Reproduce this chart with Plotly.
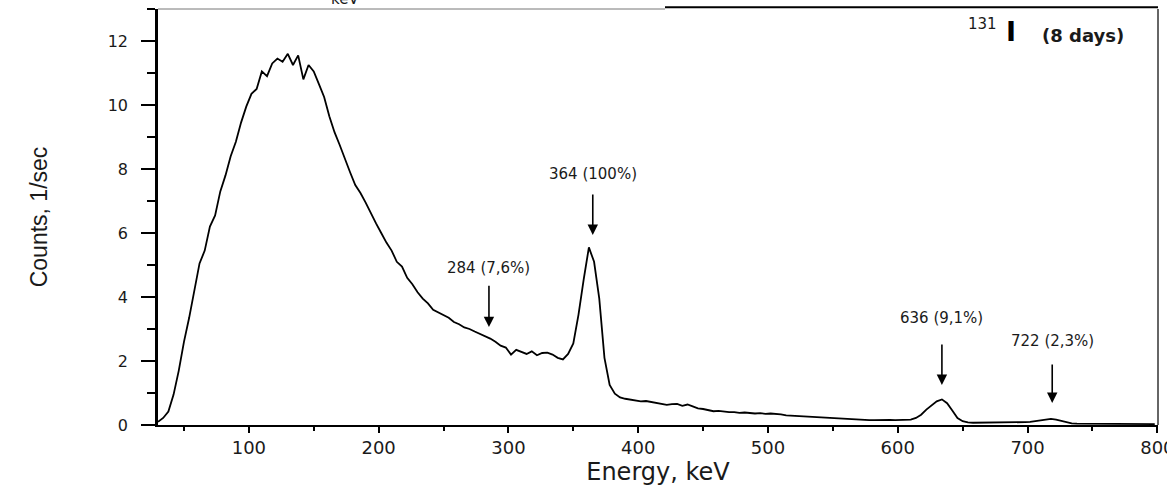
import plotly.graph_objects as go

# ---- data (I-131) ----
energy_kev = list(range(30, 802, 4))  # channel energies, 30 ... 798 keV
counts_per_sec = [
    0.10, 0.22, 0.42, 0.95, 1.70, 2.60, 3.35, 4.25,
    5.05, 5.45, 6.20, 6.55, 7.30, 7.80, 8.40, 8.85,
    9.45, 9.95, 10.35, 10.50, 11.05, 10.90, 11.30, 11.45,
    11.35, 11.60, 11.25, 11.55, 10.80, 11.25, 11.05, 10.65,
    10.25, 9.65, 9.15, 8.75, 8.30, 7.90, 7.50, 7.25,
    6.95, 6.60, 6.30, 6.00, 5.70, 5.45, 5.10, 4.95,
    4.60, 4.40, 4.15, 3.95, 3.80, 3.60, 3.52, 3.42,
    3.35, 3.22, 3.15, 3.05, 3.00, 2.92, 2.85, 2.78,
    2.70, 2.60, 2.48, 2.42, 2.20, 2.35, 2.28, 2.22,
    2.30, 2.18, 2.25, 2.26, 2.20, 2.10, 2.05, 2.22,
    2.55, 3.45, 4.55, 5.55, 5.10, 3.95, 2.10, 1.25,
    0.98, 0.86, 0.82, 0.80, 0.78, 0.74, 0.75, 0.72,
    0.70, 0.66, 0.63, 0.65, 0.66, 0.60, 0.64, 0.58,
    0.52, 0.50, 0.47, 0.43, 0.44, 0.41, 0.40, 0.40,
    0.38, 0.39, 0.37, 0.36, 0.37, 0.35, 0.36, 0.35,
    0.33, 0.30, 0.29, 0.27, 0.26, 0.26, 0.25, 0.24,
    0.23, 0.22, 0.22, 0.21, 0.20, 0.19, 0.18, 0.17,
    0.16, 0.15, 0.15, 0.16, 0.15, 0.16, 0.15, 0.15,
    0.16, 0.17, 0.22, 0.32, 0.48, 0.62, 0.74, 0.80,
    0.68, 0.45, 0.22, 0.12, 0.08, 0.07, 0.07, 0.07,
    0.07, 0.07, 0.07, 0.07, 0.08, 0.08, 0.08, 0.09,
    0.10, 0.12, 0.15, 0.17, 0.19, 0.17, 0.13, 0.08,
    0.05, 0.04, 0.04, 0.04, 0.04, 0.04, 0.03, 0.04,
    0.03, 0.04, 0.03, 0.03, 0.04, 0.03, 0.03, 0.03,
    0.03,
]

# peak markers: label, arrow energy, arrow tip (counts), arrow tail (counts), label height (counts)
peak_labels = ["284 (7,6%)", "364 (100%)", "636 (9,1%)", "722 (2,3%)"]
peak_energy = [285, 365, 634, 719]
arrow_tip = [3.06, 5.94, 1.25, 0.69]
arrow_tail = [4.40, 7.25, 2.56, 1.94]
label_level = [4.90, 7.84, 3.34, 2.62]

x_ticks = [100, 200, 300, 400, 500, 600, 700, 800]
y_ticks = [0, 2, 4, 6, 8, 10, 12]

FONT = "DejaVu Sans, Liberation Sans, Arial"
TXT = "#1a1a1a"

fig = go.Figure()
fig.add_trace(go.Scatter(
    x=energy_kev, y=counts_per_sec, mode="lines",
    line=dict(color="black", width=1.8), showlegend=False, hoverinfo="skip",
))

annotations = []
for lab, e, tip, tail, lv in zip(peak_labels, peak_energy, arrow_tip, arrow_tail, label_level):
    annotations.append(dict(
        x=e, y=tip, ax=e, ay=tail, xref="x", yref="y", axref="x", ayref="y",
        text="", showarrow=True, arrowhead=2, arrowsize=1.3, arrowwidth=1.6,
        arrowcolor="black", standoff=0,
    ))
    annotations.append(dict(
        x=e, y=lv, xref="x", yref="y", text=lab, showarrow=False,
        font=dict(family=FONT, size=15, color=TXT), xanchor="center", yanchor="middle",
    ))

# isotope label, top right
annotations.append(dict(x=0.824, y=0.963, xref="paper", yref="paper", text="131",
                        showarrow=False, xanchor="center", yanchor="middle",
                        font=dict(family=FONT, size=15, color=TXT)))
annotations.append(dict(x=0.853, y=0.945, xref="paper", yref="paper", text="<b>I</b>",
                        showarrow=False, xanchor="center", yanchor="middle",
                        font=dict(family=FONT, size=27, color="black")))
annotations.append(dict(x=0.925, y=0.937, xref="paper", yref="paper", text="<b>(8 days)</b>",
                        showarrow=False, xanchor="center", yanchor="middle",
                        font=dict(family=FONT, size=18, color=TXT)))
# cut-off text at the very top of the picture
annotations.append(dict(x=0.187, y=1.024, xref="paper", yref="paper", text="keV",
                        showarrow=False, xanchor="center", yanchor="middle",
                        font=dict(family=FONT, size=15, color=TXT)))

shapes = [
    # top frame: thin grey part then black part
    dict(type="line", xref="paper", yref="paper", x0=0, x1=0.507, y0=1, y1=1,
         line=dict(color="#777777", width=1)),
    dict(type="line", xref="paper", yref="paper", x0=0.507, x1=1.0, y0=1.004, y1=1.004,
         line=dict(color="black", width=2)),
    # right frame
    dict(type="line", xref="paper", yref="paper", x0=1, x1=1, y0=0, y1=1,
         line=dict(color="#333333", width=1.5)),
    # bottom axis line extends a little left of the y axis
    dict(type="line", xref="paper", yref="paper", x0=-0.015, x1=0, y0=0, y1=0,
         line=dict(color="black", width=1.5)),
]

fig.update_layout(
    width=1167, height=490,
    margin=dict(l=158, r=9, t=9, b=65, autoexpand=False),
    paper_bgcolor="white", plot_bgcolor="white",
    annotations=annotations, shapes=shapes,
    xaxis=dict(
        range=[30, 800.5], tickvals=x_ticks, ticktext=[str(v) for v in x_ticks],
        ticks="outside", ticklen=6, tickwidth=2, tickcolor="black",
        minor=dict(dtick=50, tick0=0, ticks="outside", ticklen=4, tickwidth=2, tickcolor="black"),
        showline=True, linecolor="black", linewidth=1.5, showgrid=False, zeroline=False,
        tickfont=dict(family=FONT, size=18, color=TXT), ticklabeloverflow="allow",
        automargin=False,
        title=dict(text="Energy, keV", font=dict(family=FONT, size=24, color=TXT), standoff=6),
    ),
    yaxis=dict(
        range=[0, 13], tickvals=y_ticks,
        ticks="outside", ticklen=14, tickwidth=2, tickcolor="black",
        minor=dict(dtick=1, tick0=0, ticks="outside", ticklen=8, tickwidth=2, tickcolor="black"),
        showline=True, linecolor="black", linewidth=2.5, showgrid=False, zeroline=False,
        tickfont=dict(family=FONT, size=16, color=TXT), ticklabelstandoff=10,
        automargin=False,
        title=dict(text="Counts, 1/sec",
                   font=dict(family="Liberation Sans Narrow, Liberation Sans, Arial", size=23, color=TXT),
                   standoff=54),
    ),
)

fig.write_html("out.html", config={"displayModeBar": False},
               post_script="document.body.style.margin='0';document.body.style.padding='0';")
